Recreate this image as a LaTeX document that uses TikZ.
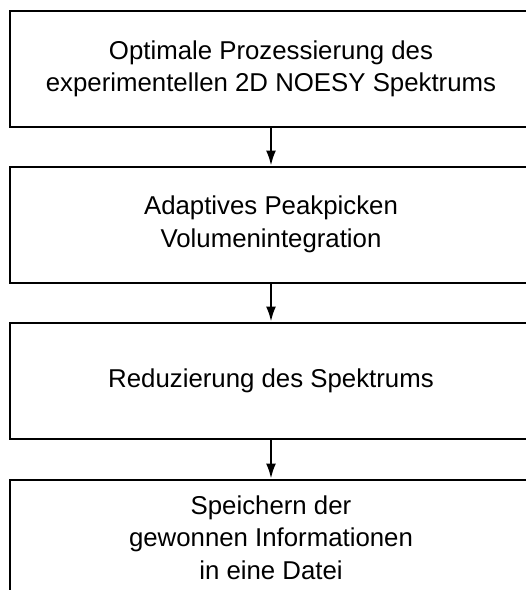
\documentclass[tikz,border=0pt]{standalone}
\usepackage{fontspec}
\setmainfont{Liberation Sans}
\usetikzlibrary{arrows.meta}
\begin{document}
\begin{tikzpicture}[x=1pt,y=-1pt,
  stepbox/.style={draw, line width=2pt, minimum width=522pt, minimum height=116pt,
    align=center, inner sep=0pt, font=\fontsize{25.8}{32.5}\selectfont},
  flow/.style={line width=2pt, -{Latex[length=15pt,width=10pt]}}]
  \useasboundingbox (0,0) rectangle (526,590);
  \clip (0,0) rectangle (526,590);
  \node[stepbox] (s1) at (271,69) {Optimale Prozessierung des\\experimentellen 2D NOESY Spektrums};
  \node[stepbox] (s2) at (271,224.5) {Adaptives Peakpicken\\Volumenintegration};
  \node[stepbox] (s3) at (271,380.5) {Reduzierung des Spektrums};
  \node[stepbox] (s4) at (271,537.5) {Speichern der\\gewonnen Informationen\\in eine Datei};
  \draw[flow] (s1.south) -- (s2.north);
  \draw[flow] (s2.south) -- (s3.north);
  \draw[flow] (s3.south) -- (s4.north);
\end{tikzpicture}
\end{document}
